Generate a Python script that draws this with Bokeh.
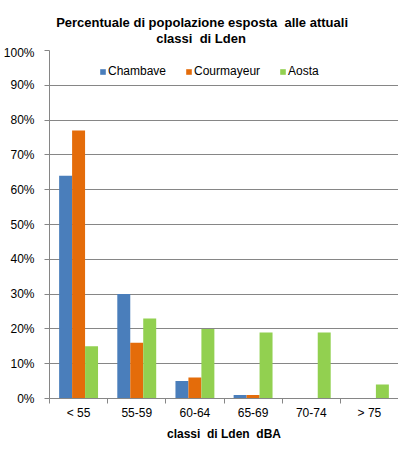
from bokeh.plotting import figure
from bokeh.layouts import column
from bokeh.models import (Range1d, FixedTicker, PrintfTickFormatter, Legend,
                          LegendItem)
from bokeh.core.properties import value
from bokeh.embed import file_html
from bokeh.resources import INLINE

categories = ["< 55", "55-59", "60-64", "65-69", "70-74", "> 75"]
chambave = [64, 30, 5, 1, 0, 0]
courmayeur = [77, 16, 6, 1, 0, 0]
aosta = [15, 23, 20, 19, 19, 4]
series_names = ["Chambave", "Courmayeur", "Aosta"]
series_colors = ["#4A7EBB", "#E46C0A", "#92D050"]
y_ticks = list(range(0, 101, 10))

FONT = "Liberation Sans"
GREY = "#868686"
NB = "\u00a0"
title_lines = ["Percentuale di popolazione esposta" + NB * 2 + "alle attuali",
               "classi" + NB * 2 + "di Lden"]

W = 398
LEFT = 48
TH = 45

# title strip on top; its frame is aligned with the chart frame below,
# so the x range runs over the same pixel span (LEFT..W)
t = figure(width=W, height=TH, output_backend="svg", toolbar_location=None,
           x_range=Range1d(LEFT, W), y_range=Range1d(TH, 0),
           min_border_left=LEFT, min_border_right=0, min_border_top=0,
           min_border_bottom=0, x_axis_location=None, y_axis_location=None)
t.grid.visible = False
t.outline_line_color = None
t.title = None
t.text(x=[201, 200], y=[22, 37.5], text=title_lines, text_align="center",
       text_baseline="middle", text_font=value(FONT), text_font_size="13px",
       text_font_style="bold", text_color="black")

p = figure(width=W, height=410, output_backend="svg", toolbar_location=None,
           x_range=Range1d(-0.5, len(categories) - 0.5), y_range=Range1d(0, 100),
           min_border_left=LEFT, min_border_right=0, min_border_top=5,
           min_border_bottom=57)
p.title = None
p.outline_line_color = None
p.background_fill_color = "white"
p.border_fill_color = "white"

# bars
bw = 0.223
x = list(range(len(categories)))
renderers = []
for k, (vals, color) in enumerate(zip([chambave, courmayeur, aosta], series_colors)):
    xs = [i + (k - 1) * bw for i in x]
    r = p.vbar(x=xs, top=vals, width=bw, bottom=0, fill_color=color,
               line_color=None)
    renderers.append(r)

# y axis
p.yaxis.ticker = FixedTicker(ticks=y_ticks)
p.yaxis.formatter = PrintfTickFormatter(format="%d%%")
p.yaxis.axis_line_color = GREY
p.yaxis.major_tick_line_color = GREY
p.yaxis.major_tick_in = 0
p.yaxis.major_tick_out = 5
p.yaxis.minor_tick_line_color = None
p.yaxis.major_label_text_font = FONT
p.yaxis.major_label_text_font_size = "12px"
p.yaxis.major_label_text_color = "black"
p.yaxis.major_label_standoff = 10

# x axis: labels at centers, ticks at boundaries
p.xaxis.ticker = FixedTicker(ticks=x, minor_ticks=[i - 0.5 for i in range(len(categories) + 1)])
p.xaxis.major_label_overrides = {i: c for i, c in enumerate(categories)}
p.xaxis.axis_line_color = GREY
p.xaxis.major_tick_line_color = None
p.xaxis.minor_tick_line_color = GREY
p.xaxis.minor_tick_in = 0
p.xaxis.minor_tick_out = 5
p.xaxis.major_label_text_font = FONT
p.xaxis.major_label_text_font_size = "12px"
p.xaxis.major_label_text_color = "black"
p.xaxis.major_label_standoff = 1
p.xaxis.axis_label = "classi" + NB * 2 + "di Lden" + NB * 2 + "dBA"
p.xaxis.axis_label_text_font = FONT
p.xaxis.axis_label_text_font_size = "12px"
p.xaxis.axis_label_text_font_style = "bold"
p.xaxis.axis_label_text_color = "black"
p.xaxis.axis_label_standoff = 4

p.xgrid.grid_line_color = None
p.ygrid.grid_line_color = GREY
p.ygrid.grid_line_width = 1

# legend
legend = Legend(items=[LegendItem(label=n, renderers=[r]) for n, r in zip(series_names, renderers)],
                orientation="horizontal", location=(50, 320),
                glyph_width=7, glyph_height=7, label_standoff=2, spacing=19,
                padding=0, margin=0, border_line_color=None,
                background_fill_alpha=0,
                label_text_font=FONT, label_text_font_size="12px",
                label_height=12, label_text_color="black")
p.add_layout(legend, "center")

layout = column(t, p, spacing=0)
open("out.html", "w").write(file_html(layout, INLINE))
